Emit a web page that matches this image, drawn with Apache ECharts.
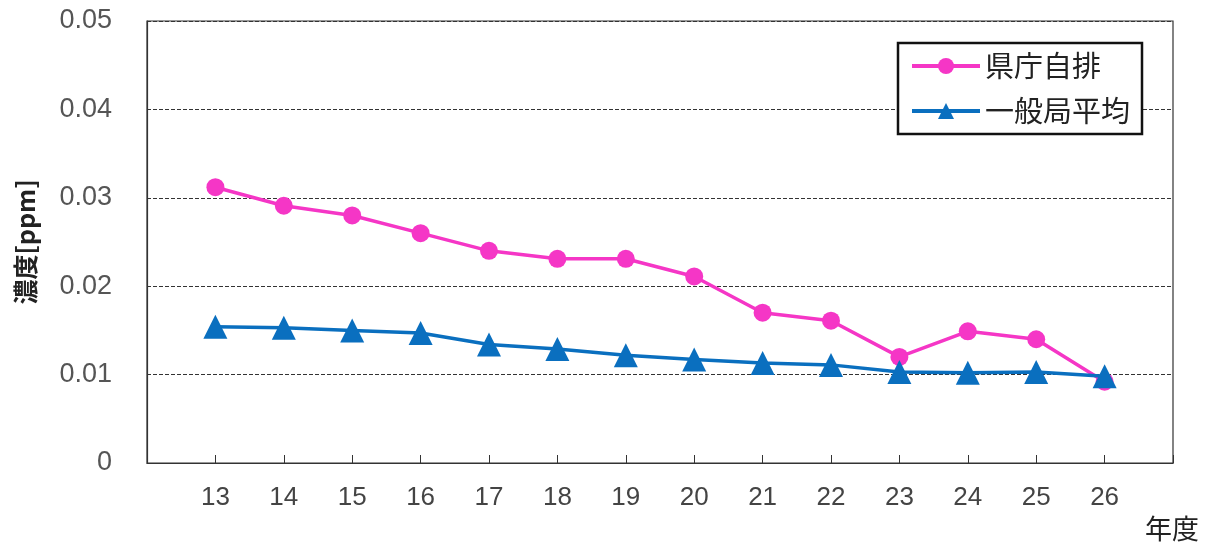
<!DOCTYPE html>
<html><head><meta charset="utf-8">
<script src="https://cdn.jsdelivr.net/npm/echarts@6/dist/echarts.min.js"></script>
<style>html,body{margin:0;padding:0;background:#fff}#c{width:1211px;height:547px}</style>
</head><body><div id="c"></div>
<script>
const years = [13,14,15,16,17,18,19,20,21,22,23,24,25,26];
const kenchoJihai = [0.0312,0.0291,0.0280,0.0260,0.0240,0.0231,0.0231,0.0211,0.0170,0.0161,0.0120,0.0149,0.0140,0.0092];
const ippankyokuAvg = [0.0154,0.0153,0.0150,0.0147,0.0134,0.0129,0.0122,0.0117,0.0113,0.0111,0.0103,0.0102,0.0103,0.0098];
const seriesNames = ['県庁自排','一般局平均'];
const yTicks = [0,0.01,0.02,0.03,0.04,0.05];

const chart = echarts.init(document.getElementById('c'));
const pair = arr => years.map((y,i)=>[y,arr[i]]);
chart.setOption({
  animation:false,
  backgroundColor:'#fff',
  grid:{left:147,right:38,top:21,bottom:84,show:true,borderColor:'#333',borderWidth:1.2,backgroundColor:'#fff'},
  legend:{
    orient:'vertical',left:898,top:43,
    backgroundColor:'#fff',borderColor:'#111',borderWidth:2.5,
    padding:[8,12,8,12],itemGap:15,itemWidth:68,itemHeight:20,
    lineStyle:{width:4},
    textStyle:{fontFamily:'Noto Sans CJK JP',fontSize:29,color:'#222',lineHeight:30},
    data:seriesNames
  },
  xAxis:{
    type:'value',min:12,max:27,interval:1,
    axisLine:{show:true,lineStyle:{color:'#333',width:1.2}},
    axisTick:{show:true,inside:true,length:8,lineStyle:{color:'#333'}},
    splitLine:{show:false},
    axisLabel:{margin:22,fontFamily:'Liberation Sans',fontSize:26,color:'#444',
      formatter:v=>years.includes(v)?String(v):''}
  },
  yAxis:{
    type:'value',min:0,max:0.05,interval:0.01,
    name:'濃度[ppm]',nameLocation:'middle',nameGap:109,nameRotate:90,
    nameTextStyle:{fontFamily:'Noto Sans CJK JP',fontSize:25,fontWeight:'bold',color:'#222'},
    axisLine:{show:true,lineStyle:{color:'#333',width:1.2}},
    axisTick:{show:false},
    splitLine:{show:true,lineStyle:{color:'#333',type:[4,2],width:1}},
    axisLabel:{margin:35,fontFamily:'Liberation Sans',fontSize:27,color:'#555',
      formatter:v=>{const t=yTicks.find(x=>Math.abs(x-v)<1e-9);return t===0?'0':t.toFixed(2);}}
  },
  series:[
    {name:seriesNames[0],type:'line',data:pair(kenchoJihai),symbol:'circle',symbolSize:18,
     itemStyle:{color:'#f536c6'},lineStyle:{color:'#f536c6',width:3.5},z:2},
    {name:seriesNames[1],type:'line',data:pair(ippankyokuAvg),symbol:'triangle',symbolSize:[24,24],
     itemStyle:{color:'#0a6fbf'},lineStyle:{color:'#0a6fbf',width:3.5},z:3}
  ],
  graphic:[
    {type:'text',left:1145,top:515,style:{text:'年度',fontFamily:'Noto Sans CJK JP',fontSize:27,fill:'#222'}}
  ]
});
</script></body></html>
